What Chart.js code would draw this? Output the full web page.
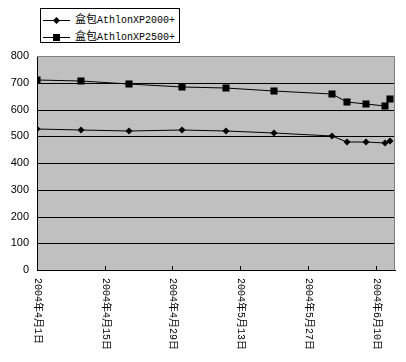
<!DOCTYPE html>
<html lang="zh">
<head>
<meta charset="UTF-8">
<title>AthlonXP price</title>
<script src="https://cdn.jsdelivr.net/npm/chart.js"></script>
<style>
    body { margin: 0; background: #fff; }
    #wrap { position: relative; width: 406px; height: 362px; }
    #legend {
        position: absolute; left: 40px; top: 8px; width: 138px; height: 33px;
        border: 1px solid #000; background: #fff; overflow: hidden;
        font: 10px "Liberation Mono", "Noto Sans CJK SC", monospace; color: #000;
    }
    .row { position: absolute; left: 2px; height: 14px; line-height: 14px; white-space: nowrap; }
    .row .cjk { font: 11px "Noto Sans CJK SC", sans-serif; }
    .swatch { display: inline-block; position: relative; width: 27px; height: 1px; background: #000;
              vertical-align: middle; margin-right: 5px; }
    .swatch i { position: absolute; left: 11px; background: #000; }
    .diamond i { width: 5px; height: 5px; top: -2px; transform: rotate(45deg); }
    .square i { width: 7px; height: 7px; top: -3px; left: 10px; }
</style>
</head>
<body>
<div id="wrap">
    <canvas id="c" width="406" height="362"></canvas>
    <div id="legend">
        <div class="row" style="top:1px"><span class="swatch diamond"><i></i></span><span class="cjk">盒包</span>AthlonXP2000+</div>
        <div class="row" style="top:18px"><span class="swatch square"><i></i></span><span class="cjk">盒包</span>AthlonXP2500+</div>
    </div>
</div>
<script>
    const seriesNames = ['盒包AthlonXP2000+', '盒包AthlonXP2500+'];
    const dates = ['2004-04-01', '2004-04-10', '2004-04-20', '2004-05-01', '2004-05-10', '2004-05-20',
                   '2004-06-01', '2004-06-04', '2004-06-08', '2004-06-12', '2004-06-13'];
    const xp2000 = [526, 523, 521, 522, 521, 512, 501, 480, 480, 474, 483];
    const xp2500 = [710, 708, 695, 685, 681, 670, 659, 629, 622, 614, 638];
    const tickDays = [0, 14, 28, 42, 56, 70];
    const tickLabels = ['2004年4月1日', '2004年4月15日', '2004年4月29日', '2004年5月13日', '2004年5月27日', '2004年6月10日'];
    const startDate = '2004-04-01';
    const lastDay = 74;

    // day offset from Apr 1
    function dayOf(s) {
        return (Date.parse(s + 'T00:00:00Z') - Date.parse(startDate + 'T00:00:00Z')) / 86400000;
    }
    const days = dates.map(dayOf);

    const plotFrame = {
        id: 'plotFrame',
        beforeDraw(chart) {
            const a = chart.chartArea, ctx = chart.ctx;
            ctx.save();
            ctx.fillStyle = '#c0c0c0';
            ctx.fillRect(a.left, a.top, a.right - a.left, a.bottom - a.top);
            ctx.restore();
        },
        afterDraw(chart) {
            const a = chart.chartArea, ctx = chart.ctx, xs = chart.scales.x;
            ctx.save();
            ctx.strokeStyle = '#808080';
            ctx.lineWidth = 1;
            ctx.beginPath();
            ctx.moveTo(a.left, Math.round(a.top) + 0.5);
            ctx.lineTo(Math.round(a.right) - 0.5, Math.round(a.top) + 0.5);
            ctx.lineTo(Math.round(a.right) - 0.5, a.bottom);
            ctx.stroke();
            // tick marks and vertical date labels
            ctx.strokeStyle = '#000';
            ctx.fillStyle = '#000';
            ctx.font = '10px "Liberation Mono", "Noto Sans CJK SC", monospace';
            ctx.textAlign = 'left';
            ctx.textBaseline = 'middle';
            tickDays.forEach((d, i) => {
                const x = Math.round(xs.getPixelForValue(d)) + 0.5;
                ctx.beginPath();
                ctx.moveTo(x, a.bottom - 4);
                ctx.lineTo(x, a.bottom);
                ctx.stroke();
                ctx.save();
                ctx.translate(x, a.bottom + 8);
                ctx.rotate(Math.PI / 2);
                ctx.fillText(tickLabels[i], 0, 0);
                ctx.restore();
            });
            ctx.restore();
        }
    };

    const pts = (vals) => vals.map((v, i) => ({ x: days[i], y: v }));

    new Chart(document.getElementById('c'), {
        type: 'line',
        data: {
            datasets: [
                { label: seriesNames[0], data: pts(xp2000), borderColor: '#000', backgroundColor: '#000',
                  borderWidth: 1, pointStyle: 'rectRot', pointRadius: 3.5, pointBorderWidth: 0, tension: 0 },
                { label: seriesNames[1], data: pts(xp2500), borderColor: '#000', backgroundColor: '#000',
                  borderWidth: 1, pointStyle: 'rect', pointRadius: 5, pointBorderWidth: 0, tension: 0 }
            ]
        },
        options: {
            responsive: false,
            animation: false,
            layout: { padding: { top: 56, right: 11, left: 0, bottom: 0 } },
            plugins: { legend: { display: false }, tooltip: { enabled: false } },
            scales: {
                x: {
                    type: 'linear', min: 0, max: lastDay,
                    alignToPixels: true,
                    grid: { display: false },
                    border: { display: true, color: '#000', width: 1 },
                    ticks: { display: false, stepSize: 14 },
                    afterFit(s) { s.height = 92; }
                },
                y: {
                    min: 0, max: 800,
                    alignToPixels: true,
                    ticks: { stepSize: 100, color: '#000', padding: 8,
                             font: { family: '"Liberation Sans", Arial, sans-serif', size: 11 } },
                    grid: { color: (c) => c.tick && c.tick.value === 800 ? 'rgba(0,0,0,0)' : '#000',
                            lineWidth: 1, drawTicks: false },
                    border: { display: true, color: '#000', width: 1 },
                    afterFit(s) { s.width = 37; }
                }
            }
        },
        plugins: [plotFrame]
    });
</script>
</body>
</html>
